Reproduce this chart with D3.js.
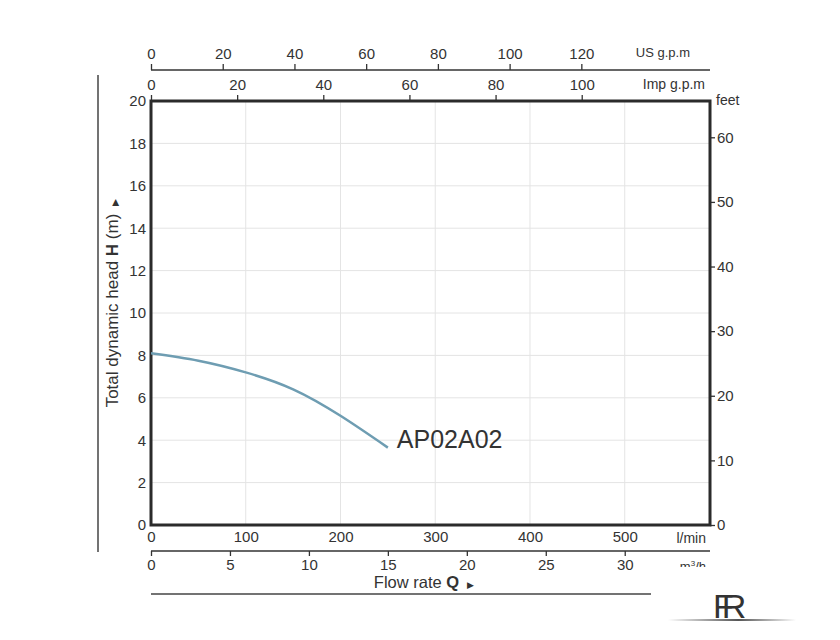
<!DOCTYPE html>
<html>
<head>
<meta charset="utf-8">
<script src="https://cdn.jsdelivr.net/npm/d3@7"></script>
<style>
  body { margin: 0; background: #fff; }
  svg text { font-family: "Liberation Sans", Arial, sans-serif; fill: #333; }
  .axis path, .axis line { stroke: #333; }
</style>
</head>
<body>
<div id="chart"></div>
<script>
// curve data: flow (l/min) vs head (m)
var flowLmin = [0, 50, 100, 150, 200, 250];
var headM = [8.1, 7.75, 7.2, 6.4, 5.15, 3.65];
var modelName = "AP02A02";

var lminTicks = [0, 100, 200, 300, 400, 500];
var m3hTicks = [0, 5, 10, 15, 20, 25, 30];
var usTicks = [0, 20, 40, 60, 80, 100, 120];
var impTicks = [0, 20, 40, 60, 80, 100];
var headTicks = [0, 2, 4, 6, 8, 10, 12, 14, 16, 18, 20];
var feetTicks = [0, 10, 20, 30, 40, 50, 60];

var W = 840, H = 640;
var pLeft = 151, pRight = 710, pTop = 101, pBottom = 525;
var qMax = 590;

var svg = d3.select("#chart").append("svg")
    .attr("width", W)
    .attr("height", H);

var x = d3.scaleLinear().domain([0, qMax]).range([pLeft, pRight]);
var xUS = d3.scaleLinear().domain([0, qMax / 3.785]).range([pLeft, pRight]);
var xImp = d3.scaleLinear().domain([0, qMax / 4.546]).range([pLeft, pRight]);
var xM3 = d3.scaleLinear().domain([0, qMax * 0.06]).range([pLeft, pRight]);
var y = d3.scaleLinear().domain([0, 20]).range([pBottom, pTop]);
var yFt = d3.scaleLinear().domain([0, 20 * 3.2808]).range([pBottom, pTop]);

// grid
svg.append("g").selectAll("line")
    .data(lminTicks.slice(1))
    .enter().append("line")
    .attr("x1", function(d) { return x(d); })
    .attr("x2", function(d) { return x(d); })
    .attr("y1", pTop).attr("y2", pBottom)
    .attr("stroke", "#e4e4e4").attr("stroke-width", 1);

svg.append("g").selectAll("line")
    .data(headTicks.slice(1, -1))
    .enter().append("line")
    .attr("x1", pLeft).attr("x2", pRight)
    .attr("y1", function(d) { return y(d); })
    .attr("y2", function(d) { return y(d); })
    .attr("stroke", "#e4e4e4").attr("stroke-width", 1);

// axes text styling helper
function styleAxis(g, size) {
    g.selectAll("text").style("font-size", size + "px").attr("fill", "#333");
    g.selectAll("line").attr("stroke", "#333").attr("stroke-width", 1.3);
}

// left head axis
var gy = svg.append("g").attr("class", "axis")
    .attr("transform", "translate(" + pLeft + ",0)")
    .call(d3.axisLeft(y).tickValues(headTicks).tickSize(0).tickPadding(5));
gy.select(".domain").remove();
styleAxis(gy, 15);

// right feet axis
var gf = svg.append("g").attr("class", "axis")
    .attr("transform", "translate(" + pRight + ",0)")
    .call(d3.axisRight(yFt).tickValues(feetTicks).tickSize(5).tickPadding(2));
gf.select(".domain").remove();
styleAxis(gf, 15);

svg.append("text").attr("x", 716).attr("y", 105).text("feet").style("font-size", "14px");

// l/min axis
var gx = svg.append("g").attr("class", "axis")
    .attr("transform", "translate(0," + pBottom + ")")
    .call(d3.axisBottom(x).tickValues(lminTicks).tickSize(0).tickPadding(6));
gx.select(".domain").remove();
styleAxis(gx, 15);
svg.append("text").attr("x", 706).attr("y", 543).attr("text-anchor", "end")
    .text("l/min").style("font-size", "14px");

// m3/h axis
var m3y = 551;
var gm = svg.append("g").attr("class", "axis")
    .attr("transform", "translate(0," + m3y + ")")
    .call(d3.axisBottom(xM3).tickValues(m3hTicks).tickSize(5).tickPadding(3));
gm.select(".domain").remove();
styleAxis(gm, 15);
svg.append("line").attr("x1", pLeft).attr("x2", pRight).attr("y1", m3y).attr("y2", m3y)
    .attr("stroke", "#333").attr("stroke-width", 1.5);

svg.append("clipPath").attr("id", "m3clip")
    .append("rect").attr("x", 660).attr("y", 553).attr("width", 60).attr("height", 14);
var m3lab = svg.append("text").attr("x", 706).attr("y", 571).attr("text-anchor", "end")
    .attr("clip-path", "url(#m3clip)").style("font-size", "13px");
m3lab.append("tspan").text("m");
m3lab.append("tspan").attr("dy", -5).style("font-size", "8px").text("3");
m3lab.append("tspan").attr("dy", 5).text("/h");

var flowLab = svg.append("text").attr("x", 424).attr("y", 588).attr("text-anchor", "middle")
    .style("font-size", "16.5px");
flowLab.append("tspan").text("Flow rate ");
flowLab.append("tspan").style("font-weight", "bold").text("Q");
flowLab.append("tspan").style("font-size", "9px").attr("dx", 8).text("\u25B6");

svg.append("line").attr("x1", pLeft).attr("x2", 651).attr("y1", 594).attr("y2", 594)
    .attr("stroke", "#444").attr("stroke-width", 1.3);

// US g.p.m axis
var usY = 70;
var gus = svg.append("g").attr("class", "axis")
    .attr("transform", "translate(0," + usY + ")")
    .call(d3.axisTop(xUS).tickValues(usTicks).tickSize(6).tickPadding(5));
gus.select(".domain").remove();
styleAxis(gus, 15);
svg.append("line").attr("x1", pLeft).attr("x2", pRight).attr("y1", usY).attr("y2", usY)
    .attr("stroke", "#333").attr("stroke-width", 1.5);
svg.append("text").attr("x", 690).attr("y", 57).attr("text-anchor", "end")
    .text("US g.p.m").style("font-size", "13px");

// Imp g.p.m axis (on the box top)
var gimp = svg.append("g").attr("class", "axis")
    .attr("transform", "translate(0," + pTop + ")")
    .call(d3.axisTop(xImp).tickValues(impTicks).tickSize(6).tickPadding(5));
gimp.select(".domain").remove();
styleAxis(gimp, 15);
svg.append("text").attr("x", 705).attr("y", 89).attr("text-anchor", "end")
    .text("Imp g.p.m").style("font-size", "14px");

// left vertical rule
svg.append("line").attr("x1", 98).attr("x2", 98).attr("y1", 75).attr("y2", 552)
    .attr("stroke", "#444").attr("stroke-width", 1.5);

// y title
var yt = svg.append("text")
    .attr("transform", "translate(118,303) rotate(-90)")
    .attr("text-anchor", "middle")
    .style("font-size", "17px");
yt.append("tspan").text("Total dynamic head ");
yt.append("tspan").style("font-weight", "bold").text("H");
yt.append("tspan").text(" (m)");
yt.append("tspan").style("font-size", "9px").attr("dx", 8).text("\u25B6");

// frame
svg.append("rect")
    .attr("x", pLeft).attr("y", pTop)
    .attr("width", pRight - pLeft).attr("height", pBottom - pTop)
    .attr("fill", "none").attr("stroke", "#2b2b2b").attr("stroke-width", 3);

// curve
var pts = flowLmin.map(function(q, i) { return [q, headM[i]]; });
var line = d3.line()
    .x(function(d) { return x(d[0]); })
    .y(function(d) { return y(d[1]); })
    .curve(d3.curveNatural);

svg.append("path")
    .datum(pts)
    .attr("d", line)
    .attr("fill", "none")
    .attr("stroke", "#6e9db2")
    .attr("stroke-width", 2.5);

svg.append("text")
    .attr("x", x(flowLmin[flowLmin.length - 1]) + 9)
    .attr("y", y(headM[headM.length - 1]))
    .text(modelName)
    .style("font-size", "25px")
    .attr("fill", "#222");

// logo
var grad = svg.append("defs").append("linearGradient").attr("id", "lg");
grad.append("stop").attr("offset", "0%").attr("stop-color", "#fff");
grad.append("stop").attr("offset", "55%").attr("stop-color", "#555");
grad.append("stop").attr("offset", "100%").attr("stop-color", "#fff");
svg.append("rect").attr("x", 668).attr("y", 619).attr("width", 128).attr("height", 2)
    .attr("fill", "url(#lg)");
svg.append("text").attr("x", 713).attr("y", 618).text("FR")
    .attr("letter-spacing", "-12px")
    .style("font-size", "34px").attr("fill", "#1f2630");
</script>
</body>
</html>
